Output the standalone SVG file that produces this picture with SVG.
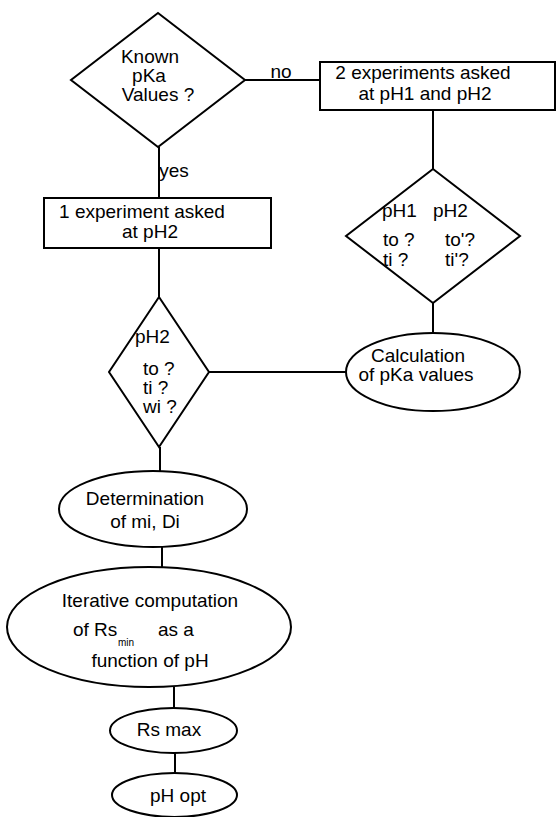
<svg xmlns="http://www.w3.org/2000/svg" width="558" height="817" viewBox="0 0 558 817">
<style>
.s{fill:#fff;stroke:#000;stroke-width:2}
.c line{stroke:#000;stroke-width:2}
text{font-family:"Liberation Sans",Arial,sans-serif;font-size:19px;fill:#000}
.m{text-anchor:middle}
.sub{font-size:10px}
</style>
<rect width="558" height="817" fill="#fff"/>
<g id="connectors" class="c">
<line x1="245" y1="80" x2="320" y2="80"/>
<line x1="159" y1="147" x2="159" y2="198"/>
<line x1="433" y1="110" x2="433" y2="169"/>
<line x1="159" y1="248" x2="159" y2="297"/>
<line x1="433" y1="303" x2="433" y2="333"/>
<line x1="209" y1="372" x2="346" y2="372"/>
<line x1="160" y1="447" x2="160" y2="472"/>
<line x1="162" y1="547" x2="162" y2="567"/>
<line x1="174" y1="687" x2="174" y2="708"/>
<line x1="175" y1="753" x2="175" y2="773"/>
<text x="281" y="78" class="m">no</text>
<text x="174" y="177" class="m">yes</text>
</g>
<g id="known">
<polygon class="s" points="158,13 245,80 158,147 71,80"/>
<text x="150" y="63" class="m">Known</text>
<text x="149" y="82" class="m">pKa</text>
<text x="158" y="101" class="m">Values ?</text>
</g>
<g id="two-exp">
<rect class="s" x="320" y="62" width="235" height="48"/>
<text x="423" y="79" class="m">2 experiments asked</text>
<text x="425" y="100" class="m">at pH1 and pH2</text>
</g>
<g id="one-exp">
<rect class="s" x="44" y="198" width="227" height="50"/>
<text x="142" y="218" class="m">1 experiment asked</text>
<text x="150" y="238" class="m">at pH2</text>
</g>
<g id="diamond-ph12">
<polygon class="s" points="433,169 520,236 433,303 346,236"/>
<text x="382" y="217">pH1</text>
<text x="433" y="217">pH2</text>
<text x="383" y="246">to ?</text>
<text x="445" y="246">to'?</text>
<text x="383" y="266">ti ?</text>
<text x="445" y="266">ti'?</text>
</g>
<g id="diamond-ph2">
<polygon class="s" points="159,297 209,372 159,447 109,372"/>
<text x="135" y="343">pH2</text>
<text x="143" y="375">to ?</text>
<text x="143" y="394">ti ?</text>
<text x="143" y="413">wi ?</text>
</g>
<g id="calc">
<ellipse class="s" cx="433" cy="372" rx="87" ry="39"/>
<text x="418" y="362" class="m">Calculation</text>
<text x="416" y="381" class="m">of pKa values</text>
</g>
<g id="determination">
<ellipse class="s" cx="153" cy="509" rx="94" ry="38"/>
<text x="145" y="505" class="m">Determination</text>
<text x="145" y="528" class="m">of mi, Di</text>
</g>
<g id="iterative">
<ellipse class="s" cx="149" cy="627" rx="142" ry="60"/>
<text x="150" y="607" class="m">Iterative computation</text>
<text x="73" y="636">of Rs</text>
<text x="118" y="646" class="sub">min</text>
<text x="158" y="636">as a</text>
<text x="150" y="667" class="m">function of pH</text>
</g>
<g id="rsmax">
<ellipse class="s" cx="173.5" cy="730.5" rx="63.5" ry="22.5"/>
<text x="169" y="736" class="m">Rs max</text>
</g>
<g id="phopt">
<ellipse class="s" cx="174.5" cy="795" rx="62.5" ry="22"/>
<text x="178" y="802" class="m">pH opt</text>
</g>
</svg>
